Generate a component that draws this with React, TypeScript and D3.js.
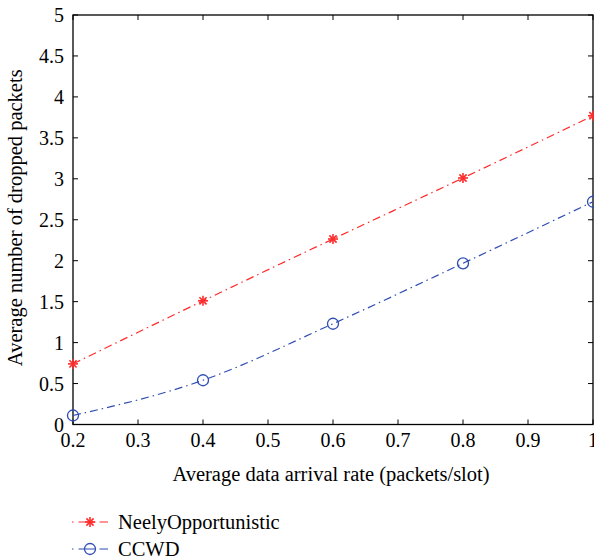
import React from "react";
import * as d3 from "d3";

const xValues = [0.2, 0.4, 0.6, 0.8, 1.0];
const neelyValues = [0.74, 1.51, 2.265, 3.01, 3.77];
const ccwdValues = [0.11, 0.54, 1.23, 1.968, 2.72];
const xTicks = [0.2, 0.3, 0.4, 0.5, 0.6, 0.7, 0.8, 0.9, 1];
const yTicks = [0, 0.5, 1, 1.5, 2, 2.5, 3, 3.5, 4, 4.5, 5];
const seriesNames = ["NeelyOpportunistic", "CCWD"];

const W = 594;
const H = 558;
const L = 73, R = 593, T = 15, B = 424.5;
const FONT = "'Liberation Serif', 'Times New Roman', serif";
const RED = "#ff2b2b";
const BLUE = "#2f4db3";
const DASH = "8,4,1.5,4";

function Asterisk({ x, y, color }: { x: number; y: number; color: string }) {
  const s = 5;
  const d = s * 0.72;
  return (
    <g stroke={color} strokeWidth={1.6}>
      <line x1={x - s} y1={y} x2={x + s} y2={y} />
      <line x1={x} y1={y - s} x2={x} y2={y + s} />
      <line x1={x - d} y1={y - d} x2={x + d} y2={y + d} />
      <line x1={x - d} y1={y + d} x2={x + d} y2={y - d} />
    </g>
  );
}

function Circle({ x, y, color }: { x: number; y: number; color: string }) {
  return <circle cx={x} cy={y} r={5.5} fill="none" stroke={color} strokeWidth={1.3} />;
}

export default function App() {
  const xs = d3.scaleLinear().domain([0.2, 1]).range([L, R]);
  const ys = d3.scaleLinear().domain([0, 5]).range([B, T]);
  const line = d3
    .line<number>()
    .x((_, i) => xs(xValues[i]))
    .y((v) => ys(v))
    .curve(d3.curveMonotoneX);

  const tickLen = 5;
  return (
    <svg
      width={W}
      height={H}
      style={{ position: "absolute", left: 0, top: 0, background: "#fff" }}
      fontFamily={FONT}
    >
      <rect x={0} y={0} width={W} height={H} fill="#fff" />
      {/* ticks */}
      {xTicks.map((t) => (
        <g key={"xt" + t} stroke="#000" strokeWidth={1}>
          <line x1={xs(t)} x2={xs(t)} y1={B} y2={B - tickLen} />
          <line x1={xs(t)} x2={xs(t)} y1={T} y2={T + tickLen} />
        </g>
      ))}
      {yTicks.map((t) => (
        <g key={"yt" + t} stroke="#000" strokeWidth={1}>
          <line x1={L} x2={L + tickLen} y1={ys(t)} y2={ys(t)} />
          <line x1={R} x2={R - tickLen} y1={ys(t)} y2={ys(t)} />
        </g>
      ))}
      <rect x={L} y={T} width={R - L} height={B - T} fill="none" stroke="#000" strokeWidth={1.3} />
      {/* tick labels */}
      {xTicks.map((t) => (
        <text key={"xl" + t} x={xs(t)} y={447} textAnchor="middle" fontSize={20}>
          {d3.format("")(t)}
        </text>
      ))}
      {yTicks.map((t) => (
        <text key={"yl" + t} x={64} y={ys(t) + 7} textAnchor="end" fontSize={20}>
          {d3.format("")(t)}
        </text>
      ))}
      {/* axis labels */}
      <text x={(L + R) / 2 - 2} y={481} textAnchor="middle" fontSize={20.5}>
        Average data arrival rate (packets/slot)
      </text>
      <text
        transform={`translate(22, ${(T + B) / 2 - 2}) rotate(-90)`}
        textAnchor="middle"
        fontSize={20.5}
      >
        Average number of dropped packets
      </text>
      {/* series */}
      <path d={line(neelyValues) || ""} fill="none" stroke={RED} strokeWidth={1.2} strokeDasharray={DASH} />
      <path d={line(ccwdValues) || ""} fill="none" stroke={BLUE} strokeWidth={1.2} strokeDasharray={DASH} />
      {xValues.map((x, i) => (
        <Asterisk key={"n" + i} x={xs(x)} y={ys(neelyValues[i])} color={RED} />
      ))}
      {xValues.map((x, i) => (
        <Circle key={"c" + i} x={xs(x)} y={ys(ccwdValues[i])} color={BLUE} />
      ))}
      {/* legend */}
      {seriesNames.map((name, i) => {
        const ly = 522 + i * 27;
        const color = i === 0 ? RED : BLUE;
        return (
          <g key={name}>
            <line x1={72} x2={108} y1={ly} y2={ly} stroke={color} strokeWidth={1.2} strokeDasharray="1.5,5,17,4,9" />
            {i === 0 ? <Asterisk x={90} y={ly} color={color} /> : <Circle x={90} y={ly} color={color} />}
            <text x={118} y={ly + 7} fontSize={20.5}>
              {name}
            </text>
          </g>
        );
      })}
    </svg>
  );
}
